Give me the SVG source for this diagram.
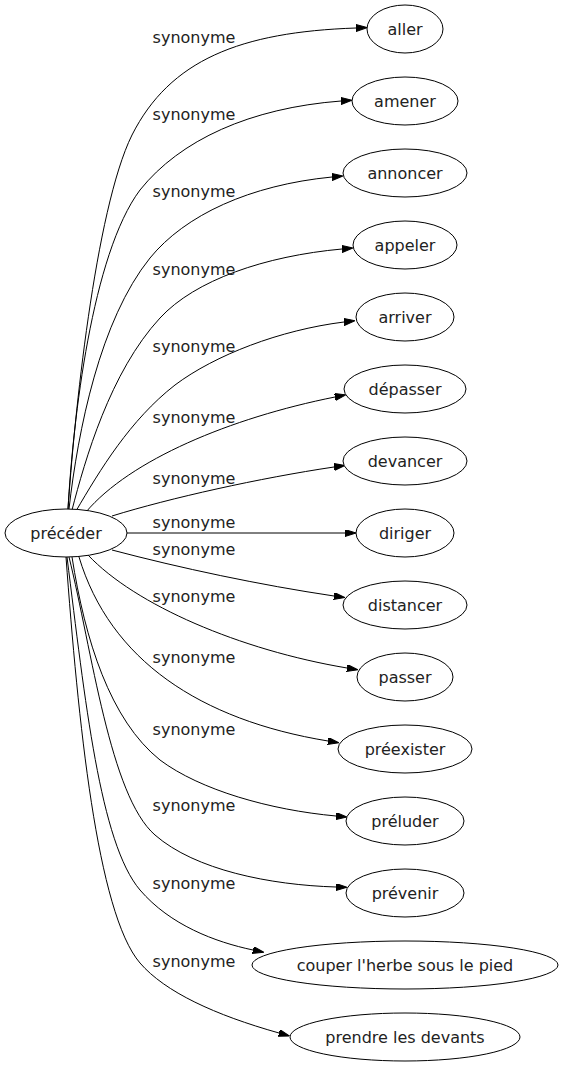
<svg xmlns="http://www.w3.org/2000/svg" width="564" height="1067" viewBox="0 0 564 1067">
<style>
.node ellipse{fill:#fff;stroke:#000;stroke-width:1}
text{font-family:"DejaVu Sans","Liberation Sans",sans-serif;font-size:16px;text-anchor:middle;fill:#222}
.edges path{fill:none;stroke:#000;stroke-width:1;marker-end:url(#arrow)}
</style>
<defs>
<marker id="arrow" markerUnits="userSpaceOnUse" markerWidth="11" markerHeight="8" refX="0" refY="3.5" orient="auto">
<path d="M0,0 L11,3.5 L0,7 z" fill="#000" stroke="#000" stroke-width="1"/>
</marker>
</defs>
<rect width="564" height="1067" fill="#fff"/>
<g class="edges" id="connectors">
<path d="M68,509 C74,420 95,210 132,135 C170,60 240,32 356,28"/>
<path d="M68,509 C73,420 92,254 140,190 C180,140 250,108 341,101"/>
<path d="M69,509 C78,430 100,320 150,258 C185,215 250,185 332,177"/>
<path d="M72,510 C85,460 110,372 160,318 C195,280 265,256 342,249"/>
<path d="M76,511 C100,470 130,420 175,385 C215,355 280,330 344,322"/>
<path d="M86,512 C130,460 230,418 335,397"/>
<path d="M112,516 C170,498 260,478 334,467"/>
<path d="M127,533 L345,533"/>
<path d="M112,550 C180,568 260,585 334,596"/>
<path d="M88,555 C135,605 240,650 347,668"/>
<path d="M79,557 C110,660 200,720 328,741"/>
<path d="M72,557 C85,640 110,720 160,760 C200,790 270,810 336,816"/>
<path d="M69,557 C92,650 110,796 155,835 C195,870 270,885 336,887"/>
<path d="M67,557 C85,700 100,843 140,890 C170,925 215,942 253,950"/>
<path d="M66,557 C78,720 97,913 140,963 C165,992 215,1015 279,1033"/>
<text x="194" y="43">synonyme</text>
<text x="194" y="120">synonyme</text>
<text x="194" y="197">synonyme</text>
<text x="194" y="275">synonyme</text>
<text x="194" y="352">synonyme</text>
<text x="194" y="423">synonyme</text>
<text x="194" y="484">synonyme</text>
<text x="194" y="528">synonyme</text>
<text x="194" y="555">synonyme</text>
<text x="194" y="602">synonyme</text>
<text x="194" y="663">synonyme</text>
<text x="194" y="735">synonyme</text>
<text x="194" y="811">synonyme</text>
<text x="194" y="889">synonyme</text>
<text x="194" y="967">synonyme</text>
</g>
<g class="node" id="n-preceder"><ellipse cx="66" cy="533" rx="61" ry="24"/><text x="66" y="539">précéder</text></g>
<g class="node" id="n-aller"><ellipse cx="405" cy="29" rx="38" ry="24"/><text x="405" y="35">aller</text></g>
<g class="node" id="n-amener"><ellipse cx="405" cy="101" rx="53" ry="24"/><text x="405" y="107">amener</text></g>
<g class="node" id="n-annoncer"><ellipse cx="405" cy="173" rx="62" ry="24"/><text x="405" y="179">annoncer</text></g>
<g class="node" id="n-appeler"><ellipse cx="405" cy="245" rx="52" ry="24"/><text x="405" y="251">appeler</text></g>
<g class="node" id="n-arriver"><ellipse cx="405" cy="317" rx="49" ry="24"/><text x="405" y="323">arriver</text></g>
<g class="node" id="n-depasser"><ellipse cx="405" cy="389" rx="61" ry="24"/><text x="405" y="395">dépasser</text></g>
<g class="node" id="n-devancer"><ellipse cx="405" cy="461" rx="62" ry="24"/><text x="405" y="467">devancer</text></g>
<g class="node" id="n-diriger"><ellipse cx="405" cy="533" rx="49" ry="24"/><text x="405" y="539">diriger</text></g>
<g class="node" id="n-distancer"><ellipse cx="405" cy="605" rx="62" ry="24"/><text x="405" y="611">distancer</text></g>
<g class="node" id="n-passer"><ellipse cx="405" cy="677" rx="48" ry="24"/><text x="405" y="683">passer</text></g>
<g class="node" id="n-preexister"><ellipse cx="405" cy="749" rx="67" ry="24"/><text x="405" y="755">préexister</text></g>
<g class="node" id="n-preluder"><ellipse cx="405" cy="821" rx="59" ry="24"/><text x="405" y="827">préluder</text></g>
<g class="node" id="n-prevenir"><ellipse cx="405" cy="893" rx="59" ry="24"/><text x="405" y="899">prévenir</text></g>
<g class="node" id="n-couper"><ellipse cx="405" cy="965" rx="153" ry="24"/><text x="405" y="971">couper l'herbe sous le pied</text></g>
<g class="node" id="n-prendre"><ellipse cx="405" cy="1037" rx="115" ry="24"/><text x="405" y="1043">prendre les devants</text></g>
</svg>
